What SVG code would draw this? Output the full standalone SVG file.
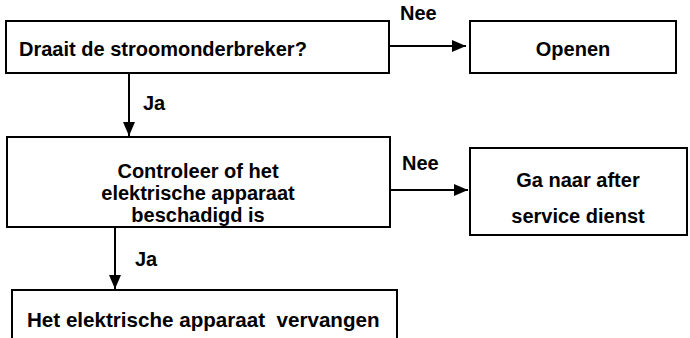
<svg xmlns="http://www.w3.org/2000/svg" width="690" height="338" viewBox="0 0 690 338">
<style>
.box{fill:#fff;stroke:#000;stroke-width:2}
.t{font-family:"Liberation Sans",Arial,sans-serif;font-weight:bold;font-size:20px;fill:#000}
.c{text-anchor:middle}
.ln{stroke:#000;stroke-width:2;fill:none}
</style>
<defs>
<marker id="ah" viewBox="0 0 14 12" refX="14" refY="6" markerWidth="14" markerHeight="12" markerUnits="userSpaceOnUse" orient="auto">
<path d="M0,0 L14,6 L0,12 Z" fill="#000"/>
</marker>
</defs>
<rect width="690" height="338" fill="#fff"/>
<g id="connectors">
<line class="ln" x1="389" y1="46" x2="466" y2="46" marker-end="url(#ah)"/>
<line class="ln" x1="129" y1="73" x2="129" y2="136" marker-end="url(#ah)"/>
<line class="ln" x1="390" y1="190" x2="468" y2="190" marker-end="url(#ah)"/>
<line class="ln" x1="115" y1="227" x2="115" y2="289" marker-end="url(#ah)"/>
<text class="t" x="400" y="20">Nee</text>
<text class="t" x="143" y="110">Ja</text>
<text class="t" x="402" y="170">Nee</text>
<text class="t" x="135" y="266">Ja</text>
</g>
<g id="n1">
<rect class="box" x="6" y="21" width="383" height="52"/>
<text class="t" x="19" y="56">Draait de stroomonderbreker?</text>
</g>
<g id="n2">
<rect class="box" x="470" y="21" width="206" height="52"/>
<text class="t c" x="573" y="56">Openen</text>
</g>
<g id="n3">
<rect class="box" x="7" y="137" width="383" height="90"/>
<text class="t c" x="198" y="178">Controleer of het</text>
<text class="t c" x="198" y="200">elektrische apparaat</text>
<text class="t c" x="198" y="222">beschadigd is</text>
</g>
<g id="n4">
<rect class="box" x="470" y="148" width="217" height="87"/>
<text class="t c" x="578" y="187">Ga naar after</text>
<text class="t c" x="578" y="223">service dienst</text>
</g>
<g id="n5">
<rect class="box" x="12" y="290" width="385" height="60"/>
<text class="t" x="27" y="327" xml:space="preserve" style="font-size:20.6px">Het elektrische apparaat  vervangen</text>
</g>
</svg>
